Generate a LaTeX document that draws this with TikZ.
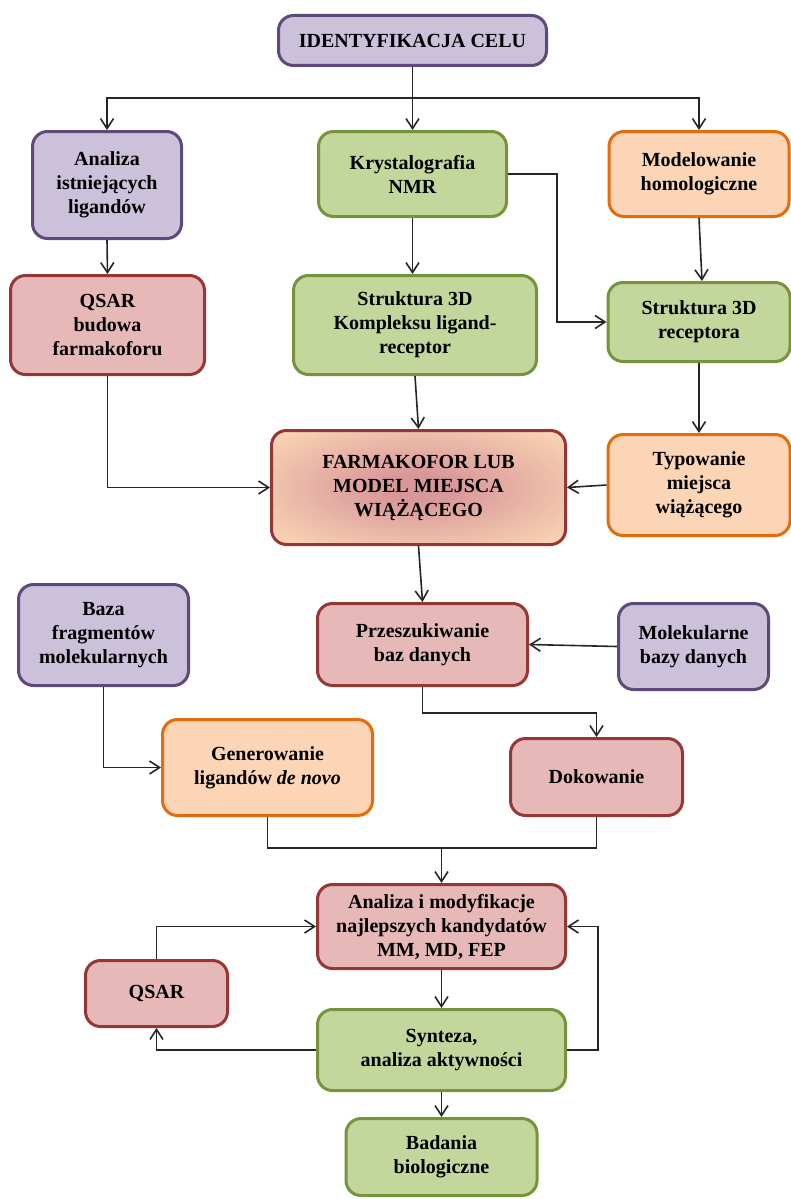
\documentclass[tikz,border=0pt]{standalone}
\usepackage{fontspec}
\setmainfont{Liberation Serif}
\usetikzlibrary{arrows.meta,calc}
\definecolor{purF}{HTML}{CCC1DA}
\definecolor{purD}{HTML}{5F497A}
\definecolor{grnF}{HTML}{C3D69B}
\definecolor{grnD}{HTML}{77933C}
\definecolor{orgF}{HTML}{FBD5B5}
\definecolor{orgD}{HTML}{E46C0A}
\definecolor{redF}{HTML}{E6B9B8}
\definecolor{redD}{HTML}{953735}
\definecolor{farmC}{HTML}{D8989A}
\definecolor{lineC}{HTML}{262626}
\pgfdeclareradialshading{farmsh}{\pgfpoint{0bp}{0bp}}{color(0bp)=(farmC); color(6bp)=(farmC); color(34bp)=(orgF); color(50bp)=(orgF)}
\begin{document}
\begin{tikzpicture}[x=1pt,y=-1pt,
  box/.style={draw, line width=3pt, rounded corners=15pt, align=center,
    font=\fontsize{20}{24}\selectfont\bfseries, inner sep=2pt},
  pur/.style={box, draw=purD, fill=purF},
  grn/.style={box, draw=grnD, fill=grnF},
  org/.style={box, draw=orgD, fill=orgF},
  red/.style={box, draw=redD, fill=redF},
  sz/.style 2 args={minimum width=#1pt, minimum height=#2pt},
  conn/.style={draw=lineC, line width=1.6pt},
  arr/.style={conn, -{Straight Barb[length=10pt,width=13pt]}}
]
\useasboundingbox (0,0) rectangle (790,1199);
\fill[white] (0,0) rectangle (790,1199);

\node[pur, sz={268}{50}] (id) at (412.5,40.5) {IDENTYFIKACJA CELU};
\node[pur, sz={149}{107}] (ana) at (107,185) {Analiza\\istniejących\\ligandów};
\node[grn, sz={188}{85}] (kry) at (412.5,174) {Krystalografia\\NMR};
\node[org, sz={180}{85}] (mod) at (699,174) {Modelowanie\\homologiczne};
\node[red, sz={194}{99}] (qs1) at (107.5,325) {QSAR\\budowa\\farmakoforu};
\node[grn, sz={243}{99}] (str) at (415,325) {Struktura 3D\\Kompleksu ligand-\\receptor};
\node[grn, sz={182}{79}] (rec) at (699,322) {Struktura 3D\\receptora};
\node[box, draw=redD, shading=farmsh, sz={294}{114}] (farm) at (418.5,487.5) {FARMAKOFOR LUB\\MODEL MIEJSCA\\WIĄŻĄCEGO};
\node[org, sz={182}{101}] (typ) at (699,485) {Typowanie\\miejsca\\wiążącego};
\node[pur, sz={170}{101}] (baza) at (103.5,635) {Baza\\fragmentów\\molekularnych};
\node[red, sz={210}{82}] (prz) at (422.5,644.5) {Przeszukiwanie\\baz danych};
\node[pur, sz={150}{86}] (mol) at (693.5,646.5) {Molekularne\\bazy danych};
\node[org, sz={210}{96}] (gen) at (267.5,767.5) {Generowanie\\ligandów \textit{de novo}};
\node[red, sz={172}{77}] (dok) at (596.5,777) {Dokowanie};
\node[red, sz={248}{84}] (ami) at (441.5,926.5) {Analiza i modyfikacje\\najlepszych kandydatów\\MM, MD, FEP};
\node[red, sz={142}{66}] (qs2) at (156.5,993.5) {QSAR};
\node[grn, sz={248}{81}] (syn) at (441.5,1050) {Synteza,\\analiza aktywności};
\node[grn, sz={191}{77}] (bad) at (441.5,1157) {Badania\\biologiczne};

% top branching
\coordinate (t1) at (412.5,98);
\draw[arr] (id.south) -- (kry.north);
\draw[arr] (t1) -| (ana.north);
\draw[arr] (t1) -| (mod.north);
% second level
\draw[arr] (ana.south) -- (qs1.north);
\draw[arr] (kry.south) -- (kry.south |- str.north);
\draw[arr] (kry.east) -- ++(49,0) |- (rec.west);
\draw[arr] (mod.south) -- ([xshift=3pt]rec.north);
% into farmakofor
\draw[arr] (qs1.south) |- (farm.west);
\draw[arr] (str.south) -- (farm.north);
\draw[arr] (rec.south) -- (typ.north);
\draw[arr] (typ.west) -- (farm.east);
% database search
\draw[arr] (farm.south) -- (prz.north);
\draw[arr] (mol.west) -- (prz.east);
\draw[arr] (prz.south) -- ++(0,26) -| (dok.north);
\draw[arr] (baza.south) |- (gen.west);
% merge
\coordinate (m2) at (441.5,848);
\draw[conn] (gen.south) -- ++(0,31) -| (dok.south);
\draw[arr] (m2) -- (ami.north);
% loop
\draw[arr] (ami.south) -- (syn.north);
\draw[arr] (syn.south) -- (bad.north);
\draw[arr] (syn.west) -| (qs2.south);
\draw[arr] (qs2.north) |- (ami.west);
\draw[arr] (syn.east) -- ++(31,0) |- (ami.east);
\end{tikzpicture}
\end{document}
